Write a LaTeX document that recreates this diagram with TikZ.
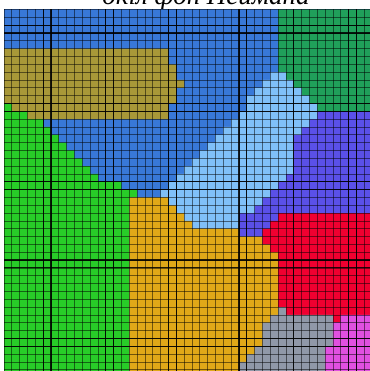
\documentclass[tikz,border=0pt]{standalone}
\usepackage{fontspec}
\setmainfont{Liberation Serif}
\definecolor{cblue}{RGB}{56,120,216}
\definecolor{cteal}{RGB}{32,160,90}
\definecolor{colive}{RGB}{168,152,56}
\definecolor{cgreen}{RGB}{40,204,40}
\definecolor{clblue}{RGB}{128,192,248}
\definecolor{cpurple}{RGB}{90,80,232}
\definecolor{cred}{RGB}{240,0,48}
\definecolor{cgold}{RGB}{224,168,24}
\definecolor{cgray}{RGB}{144,152,168}
\definecolor{cmag}{RGB}{224,80,224}
\tikzset{gridline/.style={draw=black, draw opacity=0.5, line width=0.7pt},
  boldline/.style={draw=black, draw opacity=0.85, line width=1.2pt}}
\begin{document}
\begin{tikzpicture}
\useasboundingbox (0pt,0pt) rectangle (369pt,-371pt);
\node[anchor=base, inner sep=0pt, font=\itshape\fontsize{27}{27}\selectfont] (title) at (206pt,-5pt) {окіл фон Неймана};
\begin{scope}[shift={(4pt,-9.5pt)}, x=7.83pt, y=-7.83pt]
\clip (0,0) rectangle (48,48);
\fill[cblue] (0,0) rectangle (48,48);
% olive
\fill[colive] (0,5)--(21,5)--(21,7)--(22,7)--(22,9)--(23,9)--(23,10)--(22,10)--(22,12)--(21,12)--(21,14)--(0,14)--cycle;
% teal
\fill[cteal] (35,0)--(48,0)--(48,13)--(40,13)--(40,12)--(39,12)--(39,11)--(38,11)--(38,10)--(37,10)--(37,9)--(36,9)--(36,8)--(35,8)--cycle;
% green
\fill[cgreen] (0,12)--(1,12)--(1,13)--(3,13)--(3,14)--(5,14)--(5,15)--(6,15)--(6,16)--(7,16)--(7,17)--(8,17)--(8,18)--(9,18)--(9,19)--(10,19)--(10,20)--(11,20)--(11,21)--(12,21)--(12,22)--(15,22)--(15,23)--(17,23)--(17,24)--(16,24)--(16,48)--(0,48)--cycle;
% purple
\fill[cpurple] (40,13)--(48,13)--(48,26)--(35,26)--(35,27)--(34,27)--(34,28)--(33,28)--(33,29)--(30,29)--(30,26)--(32,26)--(32,25)--(33,25)--(33,24)--(34,24)--(34,23)--(35,23)--(35,22)--(36,22)--(36,21)--(37,21)--(37,16)--(38,16)--(38,15)--(39,15)--(39,14)--(40,14)--cycle;
% light blue
\fill[clblue] (34,8)--(36,8)--(36,9)--(37,9)--(37,10)--(38,10)--(38,11)--(39,11)--(39,12)--(40,12)--(40,14)--(39,14)--(39,15)--(38,15)--(38,16)--(37,16)--(37,21)--(36,21)--(36,22)--(35,22)--(35,23)--(34,23)--(34,24)--(33,24)--(33,25)--(32,25)--(32,26)--(30,26)--(30,28)--(24,28)--(24,27)--(23,27)--(23,26)--(22,26)--(22,25)--(21,25)--(21,24)--(20,24)--(20,23)--(21,23)--(21,22)--(22,22)--(22,21)--(23,21)--(23,20)--(24,20)--(24,19)--(25,19)--(25,18)--(26,18)--(26,17)--(27,17)--(27,16)--(28,16)--(28,15)--(29,15)--(29,14)--(30,14)--(30,13)--(31,13)--(31,11)--(32,11)--(32,10)--(33,10)--(33,9)--(34,9)--cycle;
% gold
\fill[cgold] (16,24)--(21,24)--(21,25)--(22,25)--(22,26)--(23,26)--(23,27)--(24,27)--(24,28)--(30,28)--(30,29)--(33,29)--(33,30)--(34,30)--(34,31)--(35,31)--(35,48)--(16,48)--cycle;
% red
\fill[cred] (35,26)--(48,26)--(48,39)--(43,39)--(43,40)--(42,40)--(42,39)--(35,39)--(35,31)--(34,31)--(34,30)--(33,30)--(33,28)--(34,28)--(34,27)--(35,27)--cycle;
% gray
\fill[cgray] (35,38)--(36,38)--(36,39)--(42,39)--(42,48)--(30,48)--(30,45)--(31,45)--(31,44)--(32,44)--(32,43)--(33,43)--(33,40)--(34,40)--(34,39)--(35,39)--cycle;
% magenta
\fill[cmag] (43,39)--(48,39)--(48,48)--(41,48)--(41,43)--(42,43)--(42,40)--(43,40)--cycle;
% grid
\foreach \i in {0,...,48} \draw[gridline] (\i,0) -- (\i,48);
\foreach \j in {0,...,48} \draw[gridline] (0,\j) -- (48,\j);
\foreach \i in {5,6,13,14,21,22,30,31,37,44,45} \draw[boldline] (\i,0) -- (\i,48);
\foreach \j in {2,3,12,13,22,23,32,33,42,43} \draw[boldline] (0,\j) -- (48,\j);
\end{scope}
\end{tikzpicture}
\end{document}
